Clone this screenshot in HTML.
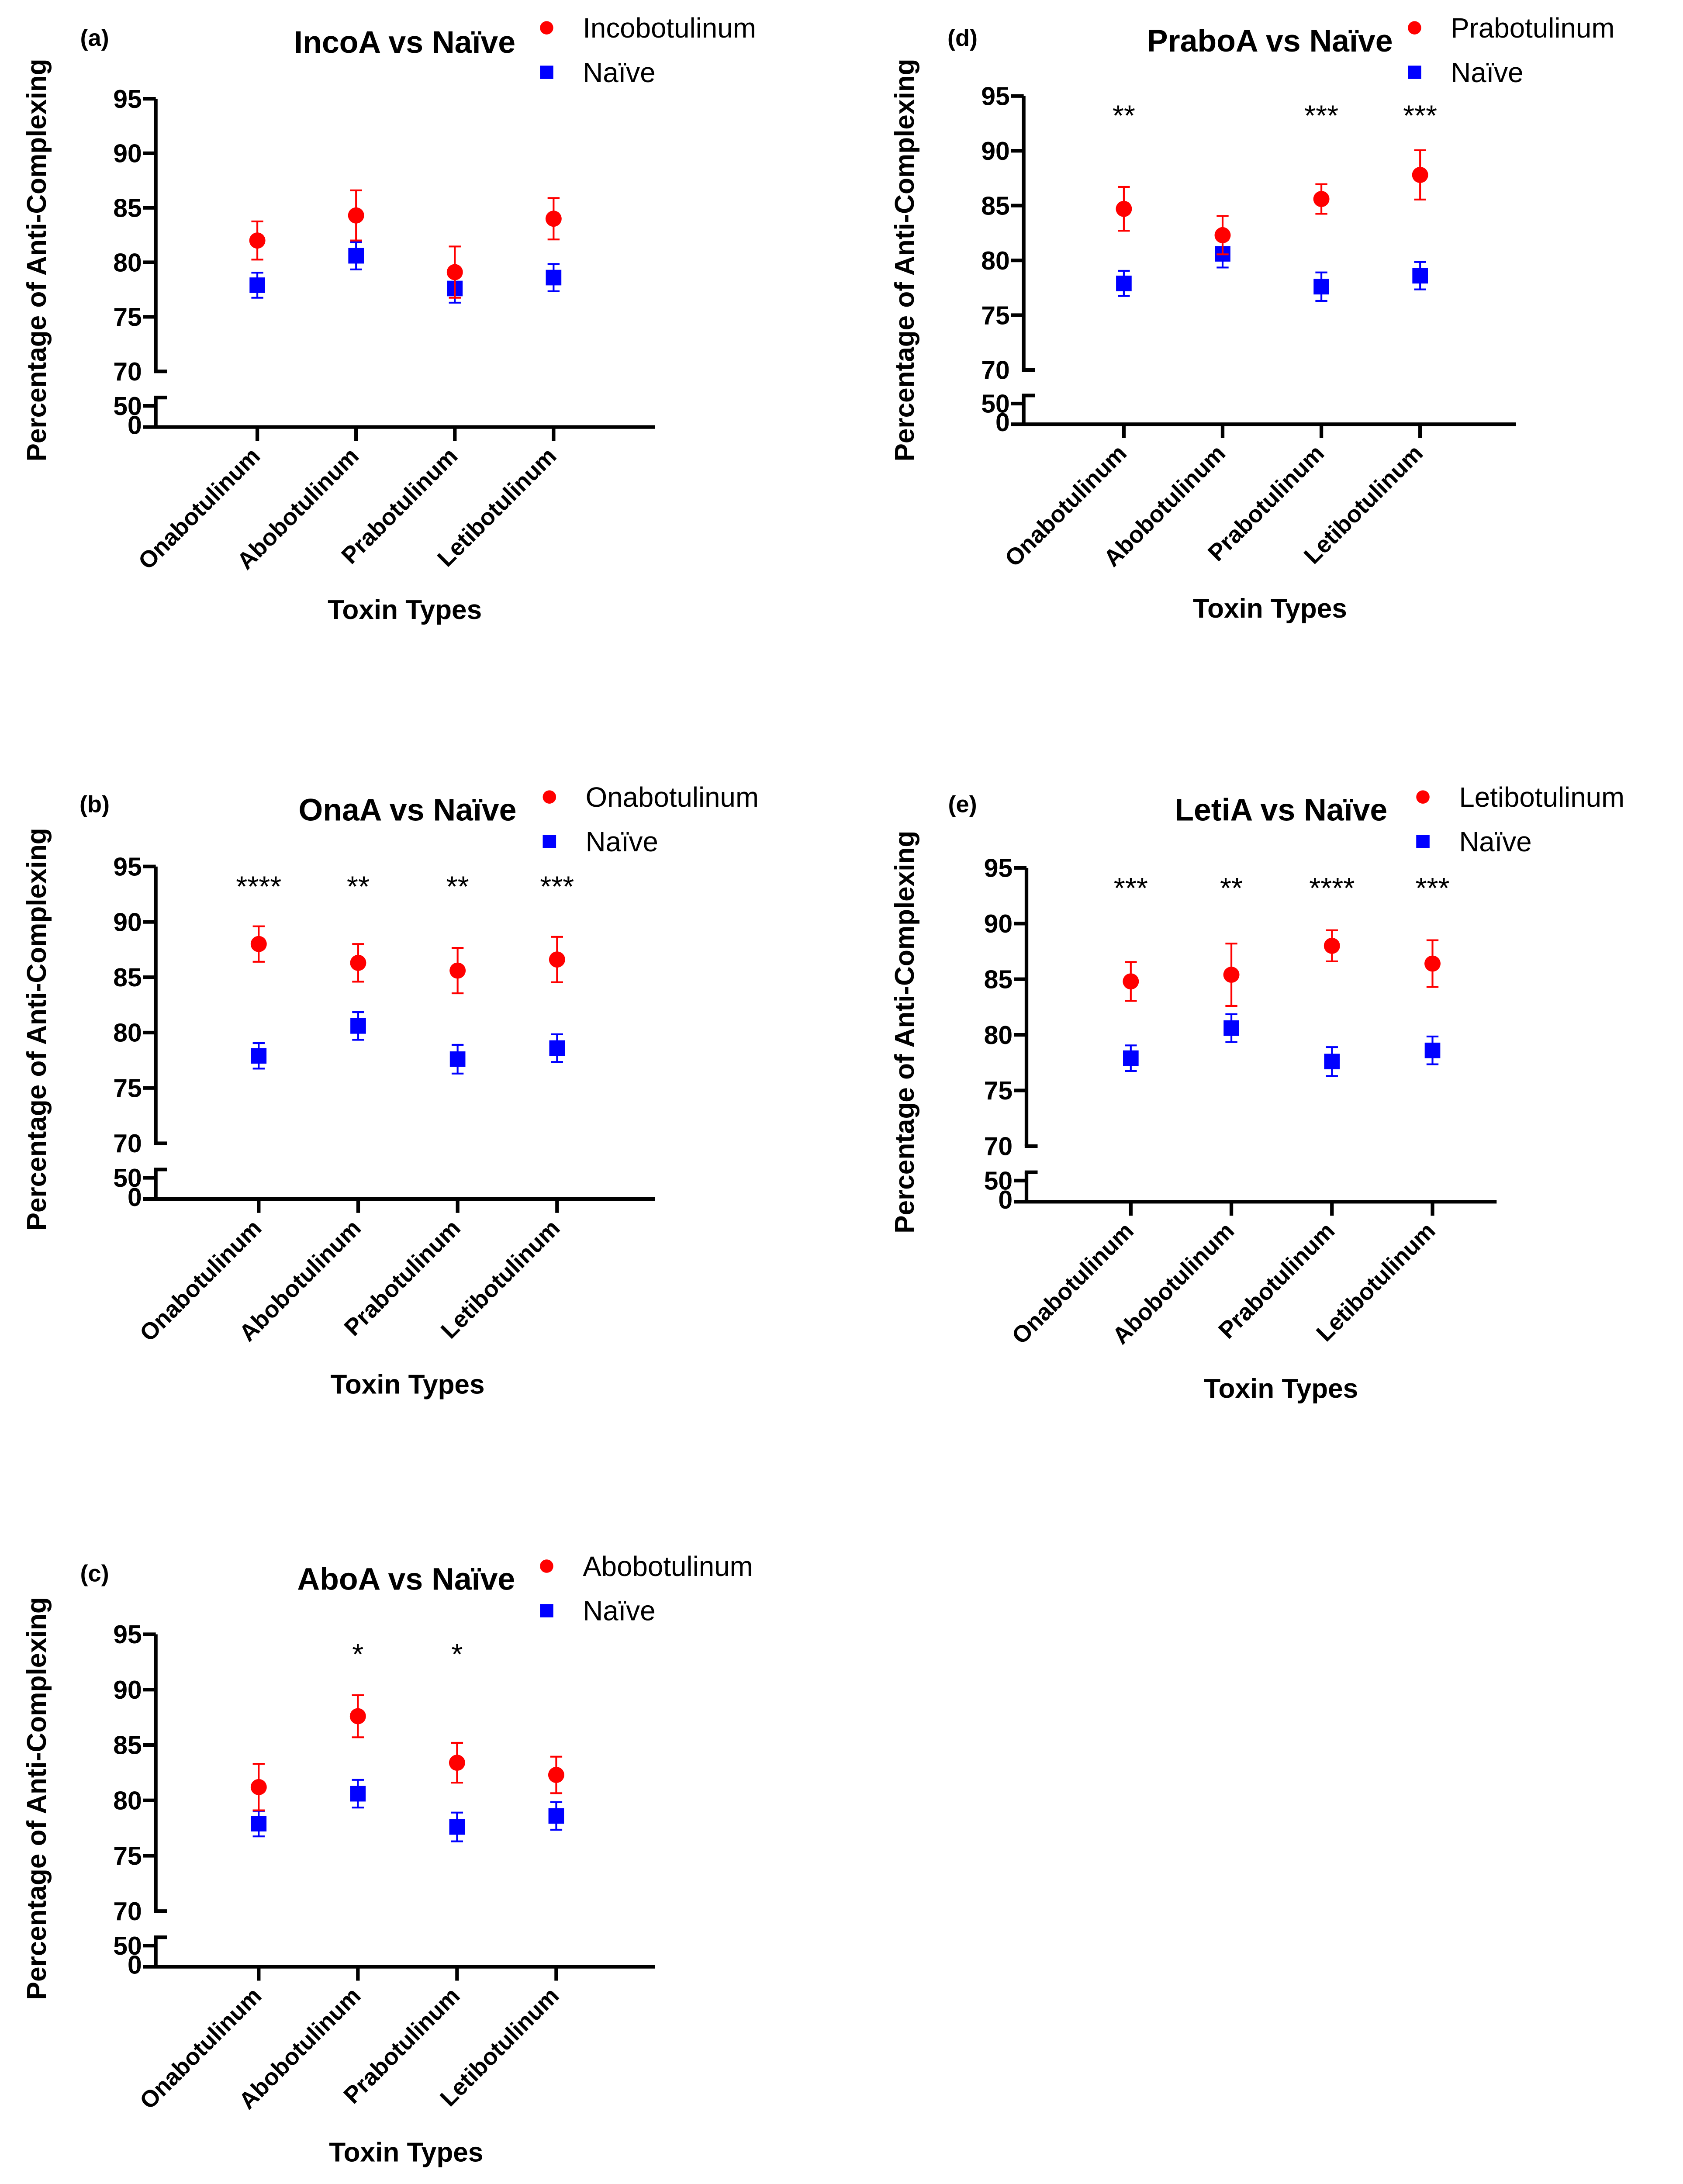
<!DOCTYPE html>
<html><head><meta charset="utf-8"><style>
html,body{margin:0;padding:0;background:#fff;overflow:hidden;}
svg{display:block;}
text{font-family:"Liberation Sans",Arial,sans-serif;}
</style></head>
<body>
<svg id="fig" width="3853" height="5078" viewBox="0 0 1210 1594.7" xmlns="http://www.w3.org/2000/svg"></svg>
<script>
// ----- data -----
const categories = ["Onabotulinum", "Abobotulinum", "Prabotulinum", "Letibotulinum"];
const naiveMean = [77.9, 80.6, 77.6, 78.6];
const naiveErr = [1.15, 1.25, 1.3, 1.25];
const incoMean = [82.0, 84.3, 79.1, 84.0];
const incoErr = [1.75, 2.3, 2.35, 1.9];
const onaMean = [88.0, 86.3, 85.6, 86.6];
const onaErr = [1.6, 1.7, 2.05, 2.05];
const aboMean = [81.2, 87.6, 83.4, 82.3];
const aboErr = [2.1, 1.9, 1.8, 1.65];
const praboMean = [84.7, 82.3, 85.6, 87.8];
const praboErr = [2.0, 1.75, 1.35, 2.25];
const letiMean = [84.8, 85.4, 88.0, 86.4];
const letiErr = [1.75, 2.8, 1.4, 2.1];
const onaStars = ["****", "**", "**", "***"];
const aboStars = ["", "*", "*", ""];
const praboStars = ["**", "", "***", "***"];
const letiStars = ["***", "**", "****", "***"];
const incoStars = ["", "", "", ""];
const yTicksUpper = [70, 75, 80, 85, 90, 95];

const panels = [
 {id:"a", title:"IncoA vs Naïve", series:"Incobotulinum", mean:incoMean, err:incoErr, stars:incoStars,
  ax:112, y95:71, y70:267, y0:307, cx0:185, sp:71, xend:471, tx:291, ty:30, lx:393, ly:20, px:68, py:27, ylx:26, yly:187, xty:438},
 {id:"b", title:"OnaA vs Naïve", series:"Onabotulinum", mean:onaMean, err:onaErr, stars:onaStars,
  ax:112, y95:623, y70:822, y0:862, cx0:186, sp:71.5, xend:471, tx:293, ty:582, lx:395, ly:573, px:68, py:578, ylx:26, yly:740, xty:995},
 {id:"c", title:"AboA vs Naïve", series:"Abobotulinum", mean:aboMean, err:aboErr, stars:aboStars,
  ax:112, y95:1175, y70:1374, y0:1414, cx0:186, sp:71.3, xend:471, tx:292, ty:1135, lx:393, ly:1126, px:68, py:1131, ylx:26, yly:1293, xty:1547},
 {id:"d", title:"PraboA vs Naïve", series:"Prabotulinum", mean:praboMean, err:praboErr, stars:praboStars,
  ax:736, y95:69, y70:266, y0:305, cx0:808, sp:71, xend:1090, tx:913, ty:29, lx:1017, ly:20, px:692, py:27, ylx:650, yly:187, xty:437},
 {id:"e", title:"LetiA vs Naïve", series:"Letibotulinum", mean:letiMean, err:letiErr, stars:letiStars,
  ax:738, y95:624, y70:824, y0:864, cx0:813, sp:72.3, xend:1076, tx:921, ty:582, lx:1023, ly:573, px:692, py:578, ylx:650, yly:742, xty:998}
];

const NS = "http://www.w3.org/2000/svg";
const svg = document.getElementById("fig");
function mk(tag, attrs, parent){
  const e = document.createElementNS(NS, tag);
  for (const k in attrs) e.setAttribute(k, attrs[k]);
  (parent||svg).appendChild(e);
  return e;
}
function txt(parent, x, y, s, size, weight, anchor, extra){
  const t = mk("text", Object.assign({x:x, y:y, "font-size":size, "font-weight":weight||"normal", "text-anchor":anchor||"start", fill:"#000"}, extra||{}), parent);
  t.textContent = s;
  return t;
}

panels.forEach(p => {
  const g = mk("g", {});
  
  
  const yScale = v => p.y70 + (70 - v) * (p.y70 - p.y95) / 25;
  const xScale = i => p.cx0 + i * p.sp;
  const yBreakTop = p.y70 + 0.47 * (p.y0 - p.y70);
  const y50 = p.y0 - 0.38 * (p.y0 - p.y70);

  const pl = txt(g, p.px, p.py + 6, "(" + p.id + ")", 17, "bold", "middle");
  
  
  const tt = txt(g, p.tx, p.ty + 8, p.title, 22.5, "bold", "middle");
  
  

  const lg = mk("g", {}, g);
  
  
  const lc = mk("circle", {cx:p.lx, cy:p.ly, r:4.8, fill:"#ff0000"}, lg);
  
  
  const lt1 = txt(lg, p.lx + 26, p.ly + 7, p.series, 20, "normal", "start");
  
  
  const ls = mk("rect", {x:p.lx - 4.8, y:p.ly + 32 - 4.8, width:9.6, height:9.6, fill:"#0000ff"}, lg);
  
  
  const lt2 = txt(lg, p.lx + 26, p.ly + 32 + 7, "Naïve", 20, "normal", "start");
  
  

  const yl = txt(g, p.ylx + 7, p.yly, "Percentage of Anti-Complexing", 19.5, "bold", "middle", {transform:"rotate(-90 " + (p.ylx+7) + " " + p.yly + ")"});
  
  

  const axg = mk("g", {stroke:"#000", "stroke-width":2.6, fill:"none"}, g);
  
  
  mk("line", {x1:p.ax, y1:p.y95, x2:p.ax, y2:p.y70}, axg);
  mk("line", {x1:p.ax - 1.3, y1:p.y70, x2:p.ax + 8, y2:p.y70}, axg);
  mk("line", {x1:p.ax, y1:yBreakTop, x2:p.ax, y2:p.y0}, axg);
  mk("line", {x1:p.ax - 1.3, y1:yBreakTop, x2:p.ax + 8, y2:yBreakTop}, axg);
  mk("line", {x1:p.ax - 9, y1:y50, x2:p.ax, y2:y50}, axg);
  mk("line", {x1:p.ax - 9, y1:p.y0, x2:p.xend, y2:p.y0}, axg);
  yTicksUpper.forEach(v => {
    if (v === 70) return;
    mk("line", {x1:p.ax - 9, y1:yScale(v), x2:p.ax, y2:yScale(v)}, axg);
  });
  yTicksUpper.forEach(v => {
    const t = txt(g, p.ax - 10, yScale(v) + 6.5, String(v), 18.5, "bold", "end");
    
    
  });
  const t50 = txt(g, p.ax - 10, y50 + 6.5, "50", 18.5, "bold", "end");
  
  
  const t0 = txt(g, p.ax - 10, p.y0 + 5, "0", 18.5, "bold", "end");
  
  

  categories.forEach((c, i) => {
    const x = xScale(i);
    mk("line", {x1:x, y1:p.y0, x2:x, y2:p.y0 + 10}, axg);
    const lx = x + 3, ly = p.y0 + 22;
    const t = txt(g, lx, ly, c, 17, "bold", "end", {transform:"rotate(-45 " + lx + " " + ly + ")"});
    
    
  });
  const xt = txt(g, p.tx, p.xty + 7, "Toxin Types", 19.5, "bold", "middle");
  
  

  naiveMean.forEach((v, i) => {
    const x = xScale(i), y = yScale(v);
    const e = naiveErr[i];
    const eg = mk("g", {stroke:"#0000ff", "stroke-width":1.3}, g);
    
    
    mk("line", {x1:x, y1:yScale(v + e), x2:x, y2:yScale(v - e)}, eg);
    mk("line", {x1:x - 4.3, y1:yScale(v + e), x2:x + 4.3, y2:yScale(v + e)}, eg);
    mk("line", {x1:x - 4.3, y1:yScale(v - e), x2:x + 4.3, y2:yScale(v - e)}, eg);
    const r = mk("rect", {x:x - 5.6, y:y - 5.6, width:11.2, height:11.2, fill:"#0000ff"}, g);
    
    
  });
  p.mean.forEach((v, i) => {
    const x = xScale(i), y = yScale(v);
    const e = p.err[i];
    const eg = mk("g", {stroke:"#ff0000", "stroke-width":1.3}, g);
    
    
    mk("line", {x1:x, y1:yScale(v + e), x2:x, y2:yScale(v - e)}, eg);
    mk("line", {x1:x - 4.3, y1:yScale(v + e), x2:x + 4.3, y2:yScale(v + e)}, eg);
    mk("line", {x1:x - 4.3, y1:yScale(v - e), x2:x + 4.3, y2:yScale(v - e)}, eg);
    const c = mk("circle", {cx:x, cy:y, r:5.8, fill:"#ff0000"}, g);
    
    
  });
  p.stars.forEach((s, i) => {
    if (!s) return;
    const t = txt(g, xScale(i), yScale(92.3), s, 21, "normal", "middle");
    
    
  });
});
</script>
</body></html>
